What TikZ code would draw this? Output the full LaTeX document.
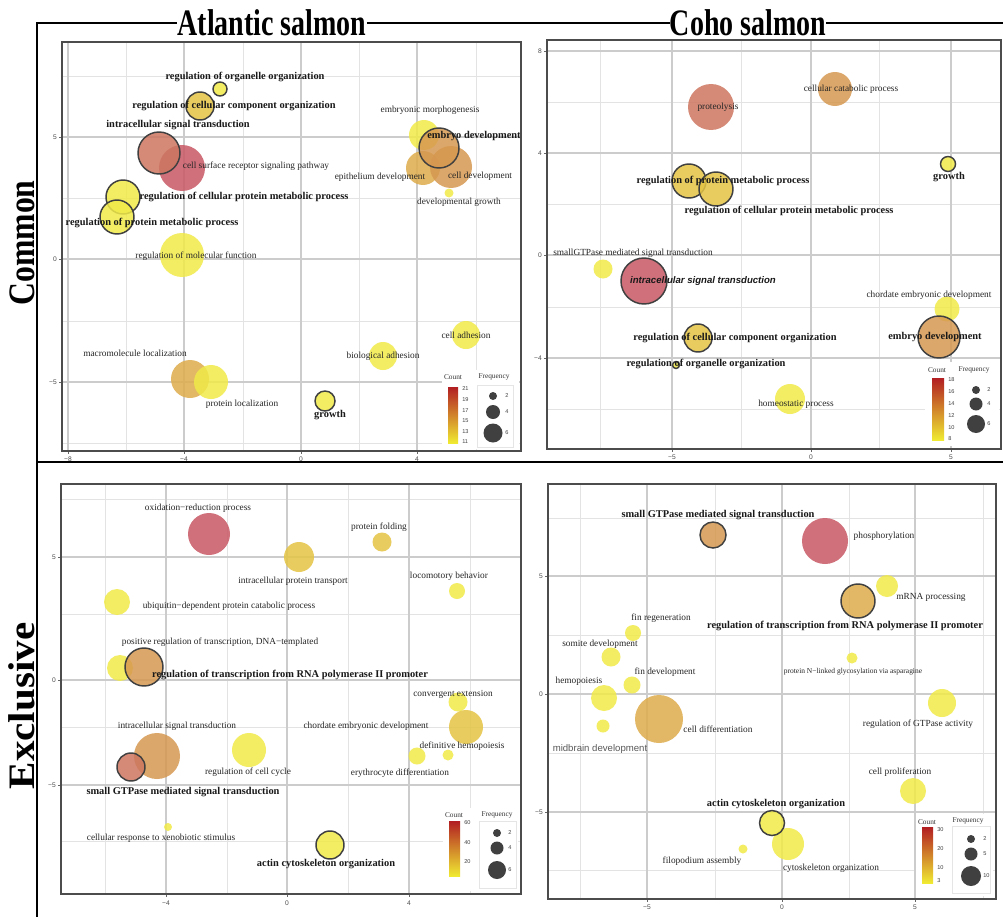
\documentclass[tikz,border=0pt]{standalone}
\usepackage{fontspec}
\setmainfont{Liberation Serif}
\setsansfont{Liberation Sans}
\usetikzlibrary{positioning}

\definecolor{BubYellow}{RGB}{240,234,72}
\definecolor{BubGold}{RGB}{228,196,68}
\definecolor{BubAmber}{RGB}{222,172,76}
\definecolor{BubOrange}{RGB}{214,152,80}
\definecolor{BubSalmon}{RGB}{205,118,96}
\definecolor{BubRed}{RGB}{200,88,100}
\definecolor{BarRed}{RGB}{178,30,34}
\definecolor{BarOrange}{RGB}{225,140,40}
\definecolor{BarYellow}{RGB}{240,234,50}
\definecolor{KeyGray}{RGB}{64,64,64}

\begin{document}
\begin{tikzpicture}[x=0.75pt, y=-0.75pt,
    lab/.style={font=\fontsize{7}{8}\selectfont, inner sep=0pt, text=black!85},
    blab/.style={font=\fontsize{7.8}{9}\selectfont\bfseries, inner sep=0pt, text=black!90},
    slab/.style={font=\fontsize{5.6}{7}\selectfont, inner sep=0pt, text=black!85},
    tick/.style={font=\sffamily\fontsize{5}{6}\selectfont, inner sep=0pt, text=black!70},
    leg/.style={font=\fontsize{5.5}{6}\selectfont, inner sep=0pt, text=black!80},
    legnum/.style={font=\sffamily\fontsize{4.2}{5}\selectfont, inner sep=0pt, text=black!75, anchor=west},
    ttl/.style={font=\fontsize{28}{30}\selectfont\bfseries, inner sep=0pt},
    rowlab/.style={font=\fontsize{28}{30}\selectfont\bfseries, inner sep=0pt, rotate=90},
    frame/.style={draw=black, line width=0.9},
    panel/.style={draw=black!70, line width=0.8},
    gmaj/.style={draw=black!20, line width=0.8},
    gmin/.style={draw=black!11, line width=0.6},
    bub/.style={fill opacity=0.85},
    ring/.style={draw=black!75, line width=1.1, fill opacity=0.85},
    legbox/.style={draw=black!10, fill=white, line width=0.4},
  ]
\useasboundingbox[fill=white] (0,0) rectangle (1003,917);

% Titles and frame
\node[ttl] (atl) at (272,23) {\scalebox{0.75}[1]{Atlantic salmon}};
\node[ttl] (coho) at (748,23) {\scalebox{0.75}[1]{Coho salmon}};
\node[rowlab] (com) at (22,243) {\scalebox{0.85}[1]{Common}};
\node[rowlab] (exc) at (22,706) {\scalebox{1.1}[1]{Exclusive}};
\draw[frame] (37,917) -- (37,23) -- (atl.west);
\draw[frame] (atl.east) -- (coho.west);
\draw[frame] (coho.east) -- (1003,23);
\draw[frame] (37,462) -- (1003,462);

%%%%%%%%%%%%%%%% Atlantic / Common
\foreach \x in {126,243,359,476} \draw[gmin] (\x,42) -- (\x,451);
\foreach \y in {76,198,321,443} \draw[gmin] (62,\y) -- (521,\y);
\foreach \x/\t in {68/−8,184/−4,301/0,417/4} {
  \draw[gmaj] (\x,42) -- (\x,451);
  \draw[black!60] (\x,451) -- (\x,454);
  \node[tick] at (\x,459) {\t};
}
\foreach \y/\t in {137/5,259/0,382/−5} {
  \draw[gmaj] (62,\y) -- (521,\y);
  \draw[black!60] (59,\y) -- (62,\y);
  \node[tick, anchor=east] at (57,\y) {\t};
}
% Bubbles
\foreach \x/\y/\r/\c in {182/168/23/BubRed, 182/255/22/BubYellow, 424/135/15/BubYellow,
    423/168/17/BubAmber, 451/167/21/BubOrange, 449/193/4.5/BubYellow, 190/379/19/BubAmber,
    211/382/17/BubYellow, 383/356/14/BubYellow, 466/335/14/BubYellow}
  \fill[bub, \c] (\x,\y) circle (\r);
\foreach \x/\y/\r/\c in {220/89/7/BubYellow, 200/106/14/BubGold, 159/153/21/BubSalmon,
    123/197/17/BubYellow, 117/217/17/BubYellow, 439/148/20/BubOrange, 325/401/10/BubYellow}
  \filldraw[ring, fill=\c] (\x,\y) circle (\r);
% Labels
\node[blab] (a1) at (245,77) {regulation of organelle organization};
\node[blab] (a2) at (234,106) {regulation of cellular component organization};
\node[blab] (a3) at (178,125) {intracellular signal transduction};
\node[lab] (a4) at (256,166) {cell surface receptor signaling pathway};
\node[blab] (a5) at (244,197) {regulation of cellular protein metabolic process};
\node[blab] (a6) at (152,223) {regulation of protein metabolic process};
\node[lab] (a7) at (196,256) {regulation of molecular function};
\node[lab] (a8) at (430,110) {embryonic morphogenesis};
\node[blab] (a9) at (474,136) {embryo development};
\node[lab] (a10) at (380,177) {epithelium development};
\node[lab] (a11) at (480,176) {cell development};
\node[lab] (a12) at (459,202) {developmental growth};
\node[lab] (a13) at (135,353) {macromolecule localization};
\node[lab] (a14) at (242,404) {protein localization};
\node[lab] (a15) at (383,356) {biological adhesion};
\node[lab] (a16) at (466,335) {cell adhesion};
\node[blab] (a17) at (330,415) {growth};
% Legend
\fill[white] (442,370) rectangle (519,449);
\node[leg] (cnt1) at (453,377) {Count};
\shade[top color=BarRed, middle color=BarOrange, bottom color=BarYellow] (448,387) rectangle (458,443);
\foreach \v [count=\i from 0] in {21,19,17,15,13,11}
  \node[legnum] (ca\i) at (462,{389+10.6*\i}) {\v};
\draw[legbox] (477,385) rectangle (513,447);
\node[leg] (frq1) at (494,377) {Frequency};
\foreach \y/\r/\v in {396/4/2, 412/7/4, 433/9.5/6} {
  \fill[KeyGray] (493,\y) circle (\r);
  \node[legnum] at (505,\y) {\v};
}
\draw[panel] (62,42) rectangle (521,451);

%%%%%%%%%%%%%%%% Coho / Common
\foreach \x in {600,741,879} \draw[gmin] (\x,40) -- (\x,449);
\foreach \y in {102,204,307,409} \draw[gmin] (547,\y) -- (1001,\y);
\foreach \x/\t in {672/−5,811/0,951/5} {
  \draw[gmaj] (\x,40) -- (\x,449);
  \draw[black!60] (\x,449) -- (\x,452);
  \node[tick] at (\x,457) {\t};
}
\foreach \y/\t in {51/8,153/4,255/0,358/−4} {
  \draw[gmaj] (547,\y) -- (1001,\y);
  \draw[black!60] (544,\y) -- (547,\y);
  \node[tick, anchor=east] at (542,\y) {\t};
}
% Bubbles
\foreach \x/\y/\r/\c in {711/107/23/BubSalmon, 835/89/17/BubOrange, 603/269/9.5/BubYellow,
    947/309/12.5/BubYellow, 790/399/15/BubYellow}
  \fill[bub, \c] (\x,\y) circle (\r);
\foreach \x/\y/\r/\c in {689/181/17/BubGold, 716/189/17/BubGold, 948/164/7.5/BubYellow,
    644/281/23/BubRed, 939/337/21/BubOrange, 698/338/14/BubGold, 676/365/3.5/BubYellow}
  \filldraw[ring, fill=\c] (\x,\y) circle (\r);
% Labels
\node[lab] (b1) at (718,107) {proteolysis};
\node[lab] (b2) at (851,89) {cellular catabolic process};
\node[blab] (b3) at (723,181) {regulation of protein metabolic process};
\node[blab] (b4) at (789,211) {regulation of cellular protein metabolic process};
\node[blab] (b5) at (949,177) {growth};
\node[lab] (b6) at (633,253) {smallGTPase mediated signal transduction};
\node[blab, font=\sffamily\fontsize{7.2}{8}\selectfont\bfseries\itshape] (b7) at (703,281) {intracellular signal transduction};
\node[lab] (b8) at (929,295) {chordate embryonic development};
\node[blab] (b9) at (935,337) {embryo development};
\node[blab] (b10) at (735,338) {regulation of cellular component organization};
\node[blab] (b11) at (706,364) {regulation of organelle organization};
\node[lab] (b12) at (796,404) {homeostatic process};
% Legend
\fill[white] (925,362) rectangle (999,446);
\node[leg] (cnt2) at (937,370) {Count};
\shade[top color=BarRed, middle color=BarOrange, bottom color=BarYellow] (932,378) rectangle (944,440);
\foreach \v [count=\i from 0] in {18,16,14,12,10,8}
  \node[legnum] (cb\i) at (948,{380+11.8*\i}) {\v};
\node[leg] (frq2) at (974,370) {Frequency};
\foreach \y/\r/\v in {390/4/2, 404/6.5/4, 424/9/6} {
  \fill[KeyGray] (976,\y) circle (\r);
  \node[legnum] at (987,\y) {\v};
}
\draw[panel] (547,40) rectangle (1001,449);

%%%%%%%%%%%%%%%% Atlantic / Exclusive
\foreach \x in {105,227,348,470} \draw[gmin] (\x,484) -- (\x,894);
\foreach \y in {499,614,727,841} \draw[gmin] (61,\y) -- (521,\y);
\foreach \x/\t in {166/−4,287/0,409/4} {
  \draw[gmaj] (\x,484) -- (\x,894);
  \draw[black!60] (\x,894) -- (\x,897);
  \node[tick] at (\x,903) {\t};
}
\foreach \y/\t in {557/5,680/0,785/−5} {
  \draw[gmaj] (61,\y) -- (521,\y);
  \draw[black!60] (58,\y) -- (61,\y);
  \node[tick, anchor=east] at (56,\y) {\t};
}
% Bubbles
\foreach \x/\y/\r/\c in {209/534/21/BubRed, 299/557/15/BubGold, 382/542/9.5/BubGold,
    457/591/8/BubYellow, 117/602/13/BubYellow, 120/668/13/BubYellow, 458/702/9.5/BubYellow,
    466/727/17/BubGold, 157/756/23/BubOrange, 249/750/17/BubYellow, 448/755/5.5/BubYellow,
    417/756/8.5/BubYellow, 168/827/4/BubYellow}
  \fill[bub, \c] (\x,\y) circle (\r);
\foreach \x/\y/\r/\c in {144/667/19/BubOrange, 131/767/14/BubSalmon, 330/845/14/BubYellow}
  \filldraw[ring, fill=\c] (\x,\y) circle (\r);
% Labels
\node[lab] (c1) at (198,508) {oxidation−reduction process};
\node[lab] (c2) at (379,527) {protein folding};
\node[lab] (c3) at (293,581) {intracellular protein transport};
\node[lab] (c4) at (449,576) {locomotory behavior};
\node[lab] (c5) at (229,606) {ubiquitin−dependent protein catabolic process};
\node[lab] (c6) at (220,642) {positive regulation of transcription, DNA−templated};
\node[blab] (c7) at (290,675) {regulation of transcription from RNA polymerase II promoter};
\node[lab] (c8) at (453,694) {convergent extension};
\node[lab] (c9) at (177,726) {intracellular signal transduction};
\node[lab] (c10) at (366,726) {chordate embryonic development};
\node[lab] (c11) at (462,746) {definitive hemopoiesis};
\node[lab] (c12) at (248,772) {regulation of cell cycle};
\node[lab] (c13) at (400,773) {erythrocyte differentiation};
\node[blab] (c14) at (183,792) {small GTPase mediated signal transduction};
\node[lab] (c15) at (161,838) {cellular response to xenobiotic stimulus};
\node[blab] (c16) at (326,864) {actin cytoskeleton organization};
% Legend
\fill[white] (443,808) rectangle (518,891);
\node[leg] (cnt3) at (454,815) {Count};
\shade[top color=BarRed, middle color=BarOrange, bottom color=BarYellow] (449,821) rectangle (460,876);
\foreach \v/\y in {60/823,40/843,20/862}
  \node[legnum] at (464,\y) {\v};
\draw[legbox] (479,821) rectangle (516,888);
\node[leg] (frq3) at (497,815) {Frequency};
\foreach \y/\r/\v in {833/4/2, 848/6.5/4, 870/9/6} {
  \fill[KeyGray] (497,\y) circle (\r);
  \node[legnum] at (508,\y) {\v};
}
\draw[panel] (61,484) rectangle (521,894);

%%%%%%%%%%%%%%%% Coho / Exclusive
\foreach \x in {580,715,849,983} \draw[gmin] (\x,484) -- (\x,899);
\foreach \y in {518,635,753,870} \draw[gmin] (548,\y) -- (996,\y);
\foreach \x/\t in {647/−5,782/0,915/5} {
  \draw[gmaj] (\x,484) -- (\x,899);
  \draw[black!60] (\x,899) -- (\x,902);
  \node[tick] at (\x,907) {\t};
}
\foreach \y/\t in {576/5,694/0,812/−5} {
  \draw[gmaj] (548,\y) -- (996,\y);
  \draw[black!60] (545,\y) -- (548,\y);
  \node[tick, anchor=east] at (543,\y) {\t};
}
% Bubbles
\foreach \x/\y/\r/\c in {825/541/23/BubRed, 887/586/11/BubYellow, 633/633/8/BubYellow,
    611/657/9.5/BubYellow, 632/685/8.5/BubYellow, 604/698/13/BubYellow, 852/658/5.5/BubYellow,
    603/726/6.5/BubYellow, 659/719/24/BubAmber, 942/703/14/BubYellow, 913/791/13/BubYellow,
    788/844/16/BubYellow, 743/849/4.5/BubYellow}
  \fill[bub, \c] (\x,\y) circle (\r);
\foreach \x/\y/\r/\c in {713/535/13/BubOrange, 858/601/17/BubAmber, 772/823/12.5/BubYellow}
  \filldraw[ring, fill=\c] (\x,\y) circle (\r);
% Labels
\node[blab] (d1) at (718,515) {small GTPase mediated signal transduction};
\node[lab] (d2) at (884,536) {phosphorylation};
\node[lab] (d3) at (931,597) {mRNA processing};
\node[blab] (d4) at (845,626) {regulation of transcription from RNA polymerase II promoter};
\node[lab] (d5) at (661,618) {fin regeneration};
\node[lab] (d6) at (600,644) {somite development};
\node[lab] (d7) at (665,672) {fin development};
\node[lab] (d8) at (579,681) {hemopoiesis};
\node[slab] (d9) at (853,672) {protein N−linked glycosylation via asparagine};
\node[lab] (d10) at (918,724) {regulation of GTPase activity};
\node[lab] (d11) at (718,729) {cell differentiation};
\node[lab, font=\sffamily\fontsize{7.2}{8}\selectfont, text=black!65] (d12) at (600,749) {midbrain development};
\node[lab] (d13) at (900,772) {cell proliferation};
\node[blab] (d14) at (776,804) {actin cytoskeleton organization};
\node[lab] (d15) at (702,861) {filopodium assembly};
\node[lab] (d16) at (831,868) {cytoskeleton organization};
% Legend
\fill[white] (916,814) rectangle (993,896);
\node[leg] (cnt4) at (927,822) {Count};
\shade[top color=BarRed, middle color=BarOrange, bottom color=BarYellow] (922,827) rectangle (933,883);
\foreach \v/\y in {30/830,20/849,10/868,3/881}
  \node[legnum] at (937,\y) {\v};
\draw[legbox] (952,826) rectangle (990,893);
\node[leg] (frq4) at (968,821) {Frequency};
\foreach \y/\r/\v in {839/4/2, 854/6.5/5, 876/10/10} {
  \fill[KeyGray] (971,\y) circle (\r);
  \node[legnum] at (983,\y) {\v};
}
\draw[panel] (548,484) rectangle (996,899);
\end{tikzpicture}
\end{document}
